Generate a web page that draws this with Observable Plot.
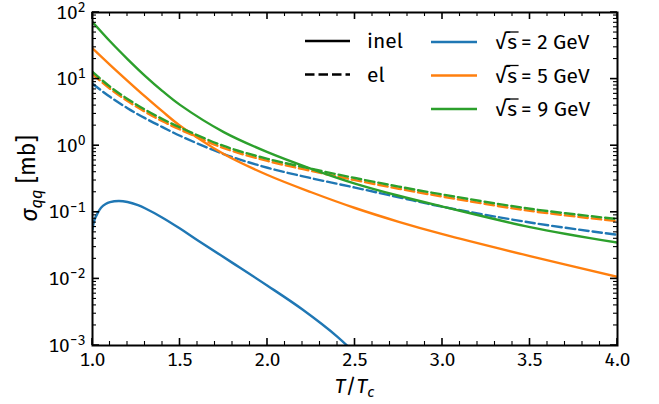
<!DOCTYPE html>
<html>
<head>
<meta charset="utf-8">
<script src="https://cdn.jsdelivr.net/npm/d3@7"></script>
<script src="https://cdn.jsdelivr.net/npm/@observablehq/plot@0.6"></script>
<style>
  body { margin: 0; background: #fff; }
  #chart svg { font-family: "Fira Sans", "Open Sans", sans-serif; }
</style>
</head>
<body>
<div id="chart"></div>
<script>
// Quark-quark cross sections vs T/Tc for three collision energies.
const temps = [1.0, 1.1, 1.2, 1.3, 1.4, 1.5, 1.75, 2.0, 2.25, 2.5, 2.75, 3.0, 3.5, 4.0];

// inelastic, sqrt(s) = 9 GeV and 5 GeV (mb)
const inel9 = [72, 37, 20, 11.2, 6.6, 4.1, 1.6, 0.8, 0.45, 0.27, 0.177, 0.122, 0.06, 0.035];
const inel5 = [29, 16.4, 9.44, 5.5, 3.27, 2.0, 0.75, 0.363, 0.2, 0.116, 0.072, 0.047, 0.022, 0.0107];

// elastic (mb)
const el9 = [12.8, 7.7, 5.04, 3.48, 2.51, 1.88, 0.99, 0.635, 0.45, 0.327, 0.243, 0.185, 0.113, 0.079];
const el5 = [11.9, 7.16, 4.69, 3.24, 2.33, 1.75, 0.92, 0.59, 0.418, 0.304, 0.226, 0.172, 0.105, 0.0735];
const el2 = [8.5, 5.42, 3.66, 2.59, 1.9, 1.41, 0.748, 0.467, 0.325, 0.235, 0.168, 0.121, 0.0703, 0.0459];

// inelastic, sqrt(s) = 2 GeV: rises from threshold, peaks near T/Tc ~ 1.15
const inel2Temps = [1.0, 1.01, 1.03, 1.05, 1.075, 1.1, 1.15, 1.2, 1.26, 1.3, 1.4, 1.5, 1.6, 1.8, 2.0, 2.2, 2.4, 2.5];
const inel2 = [0.055, 0.075, 0.098, 0.118, 0.133, 0.142, 0.148, 0.143, 0.128, 0.115, 0.083, 0.057, 0.038, 0.0174, 0.0079, 0.00347, 0.00135, 0.00076];

const energies = [2, 5, 9];
const energyColors = ["#1f77b4", "#ff7f0e", "#2ca02c"];
const processNames = ["inel", "el"];

const xMajor = [1.0, 1.5, 2.0, 2.5, 3.0, 3.5, 4.0];
const yMajor = [1e-3, 1e-2, 1e-1, 1e0, 1e1, 1e2];

const xMinor = d3.range(10, 41).map(d => d / 10).filter(d => !xMajor.includes(d));
const yMinor = yMajor.slice(0, -1).flatMap(p => d3.range(2, 10).map(k => k * p));

const curves = [
  {sqrtS: 2, process: "inel", T: inel2Temps, sigma: inel2},
  {sqrtS: 2, process: "el", T: temps, sigma: el2},
  {sqrtS: 5, process: "inel", T: temps, sigma: inel5},
  {sqrtS: 5, process: "el", T: temps, sigma: el5},
  {sqrtS: 9, process: "inel", T: temps, sigma: inel9},
  {sqrtS: 9, process: "el", T: temps, sigma: el9}
];

const W = 659, H = 404;
const M = {left: 92, right: 42, top: 12, bottom: 59};
const dash = "9.5,4";
const lineWidth = 2.4;

const colorOf = s => energyColors[energies.indexOf(s)];

const lineMarks = curves.map(c =>
  Plot.line(c.T.map((t, i) => ({T: t, sigma: c.sigma[i]})), {
    x: "T", y: "sigma",
    stroke: colorOf(c.sqrtS),
    strokeWidth: lineWidth,
    strokeDasharray: c.process === "el" ? dash : null,
    curve: "catmull-rom",
    clip: true
  })
);

const plot = Plot.plot({
  width: W, height: H,
  marginLeft: M.left, marginRight: M.right, marginTop: M.top, marginBottom: M.bottom,
  x: {domain: [1, 4]},
  y: {type: "log", domain: [1e-3, 1e2]},
  style: {fontSize: "19px", color: "#000", background: "#fff"},
  marks: [
    ...lineMarks,
    Plot.axisX(xMajor, {tickSize: 0, tickPadding: 7, tickFormat: d3.format(".1f"), label: null, fontSize: 19}),
    Plot.axisY(yMajor, {tickSize: 0, tickPadding: 7, tickFormat: d => "10^" + Math.round(Math.log10(d)), label: null, fontSize: 19}),
    Plot.frame({stroke: "#000", strokeWidth: 2})
  ]
});

document.getElementById("chart").append(plot);

const svg = d3.select(plot);
const xs = plot.scale("x"), ys = plot.scale("y");
const frameLeft = Math.min(...xs.range), frameRight = Math.max(...xs.range);
const frameTop = Math.min(...ys.range), frameBottom = Math.max(...ys.range);

// inward ticks on all four sides
const tickG = svg.append("g").attr("stroke", "#000").attr("fill", "none");
const drawXTicks = (vals, len, w) => vals.forEach(v => {
  const px = xs.apply(v);
  tickG.append("line").attr("x1", px).attr("x2", px).attr("y1", frameBottom).attr("y2", frameBottom - len).attr("stroke-width", w);
  tickG.append("line").attr("x1", px).attr("x2", px).attr("y1", frameTop).attr("y2", frameTop + len).attr("stroke-width", w);
});
const drawYTicks = (vals, len, w) => vals.forEach(v => {
  const py = ys.apply(v);
  tickG.append("line").attr("y1", py).attr("y2", py).attr("x1", frameLeft).attr("x2", frameLeft + len).attr("stroke-width", w);
  tickG.append("line").attr("y1", py).attr("y2", py).attr("x1", frameRight).attr("x2", frameRight - len).attr("stroke-width", w);
});
drawXTicks(xMajor, 7, 1.6);
drawXTicks(xMinor, 4, 1.1);
drawYTicks(yMajor, 7, 1.6);
drawYTicks(yMinor, 4, 1.1);

// power-of-ten tick labels with raised exponents
svg.selectAll('g[aria-label="y-axis tick label"] text').each(function () {
  const [base, exp] = this.textContent.split("^");
  const t = d3.select(this);
  t.text(null);
  t.append("tspan").text(base);
  t.append("tspan").attr("dy", "-0.48em").attr("font-size", "0.74em").text(exp.replace("-", "\u2212"));
});

const xMid = (frameLeft + frameRight) / 2;
const yMid = (frameTop + frameBottom) / 2;

// x-axis label: T/T_c
const xl = svg.append("text")
  .attr("x", xMid).attr("y", 393)
  .attr("text-anchor", "middle").attr("font-size", 21);
xl.append("tspan").attr("font-style", "italic").text("T");
xl.append("tspan").text("/");
xl.append("tspan").attr("font-style", "italic").text("T");
xl.append("tspan").attr("font-style", "italic").attr("font-size", "0.72em").attr("dy", "0.25em").text("c");

// y-axis label: sigma_qq [mb]
const yl = svg.append("text")
  .attr("transform", `translate(37,${yMid}) rotate(-90)`)
  .attr("text-anchor", "middle").attr("font-size", 23);
yl.append("tspan").attr("font-style", "italic").text("\u03c3");
yl.append("tspan").attr("font-style", "italic").attr("font-size", "0.72em").attr("dy", "0.3em").text("qq");
yl.append("tspan").attr("dy", "-0.3em").text(" [mb]");

// legend: line styles (process) and colours (energy)
const lg = svg.append("g").attr("font-size", 21).attr("text-anchor", "start");
processNames.forEach((name, i) => {
  const y = 41 + i * 33.5;
  lg.append("line").attr("x1", 305).attr("x2", 350).attr("y1", y).attr("y2", y)
    .attr("stroke", "#000").attr("stroke-width", lineWidth)
    .attr("stroke-dasharray", name === "el" ? dash : null);
  lg.append("text").attr("x", 367).attr("y", y + 7).text(name);
});
energies.forEach((s, i) => {
  const y = 42 + i * 33.5;
  lg.append("line").attr("x1", 431).attr("x2", 477).attr("y1", y).attr("y2", y)
    .attr("stroke", energyColors[i]).attr("stroke-width", lineWidth);
  const root = lg.append("text").attr("x", 495).attr("y", y + 7).text("\u221a");
  const rootW = root.node().getComputedTextLength();
  const sx = 495 + rootW + 0.5;
  const sText = lg.append("text").attr("x", sx).attr("y", y + 7).text("s");
  const sW = sText.node().getComputedTextLength();
  // radical bar over s
  lg.append("line").attr("x1", sx - 1).attr("x2", sx + sW + 1.5)
    .attr("y1", y - 10).attr("y2", y - 10).attr("stroke", "#000").attr("stroke-width", 1.3);
  lg.append("text").attr("x", sx + sW + 4).attr("y", y + 7).text(`= ${s} GeV`);
});
</script>
</body>
</html>
